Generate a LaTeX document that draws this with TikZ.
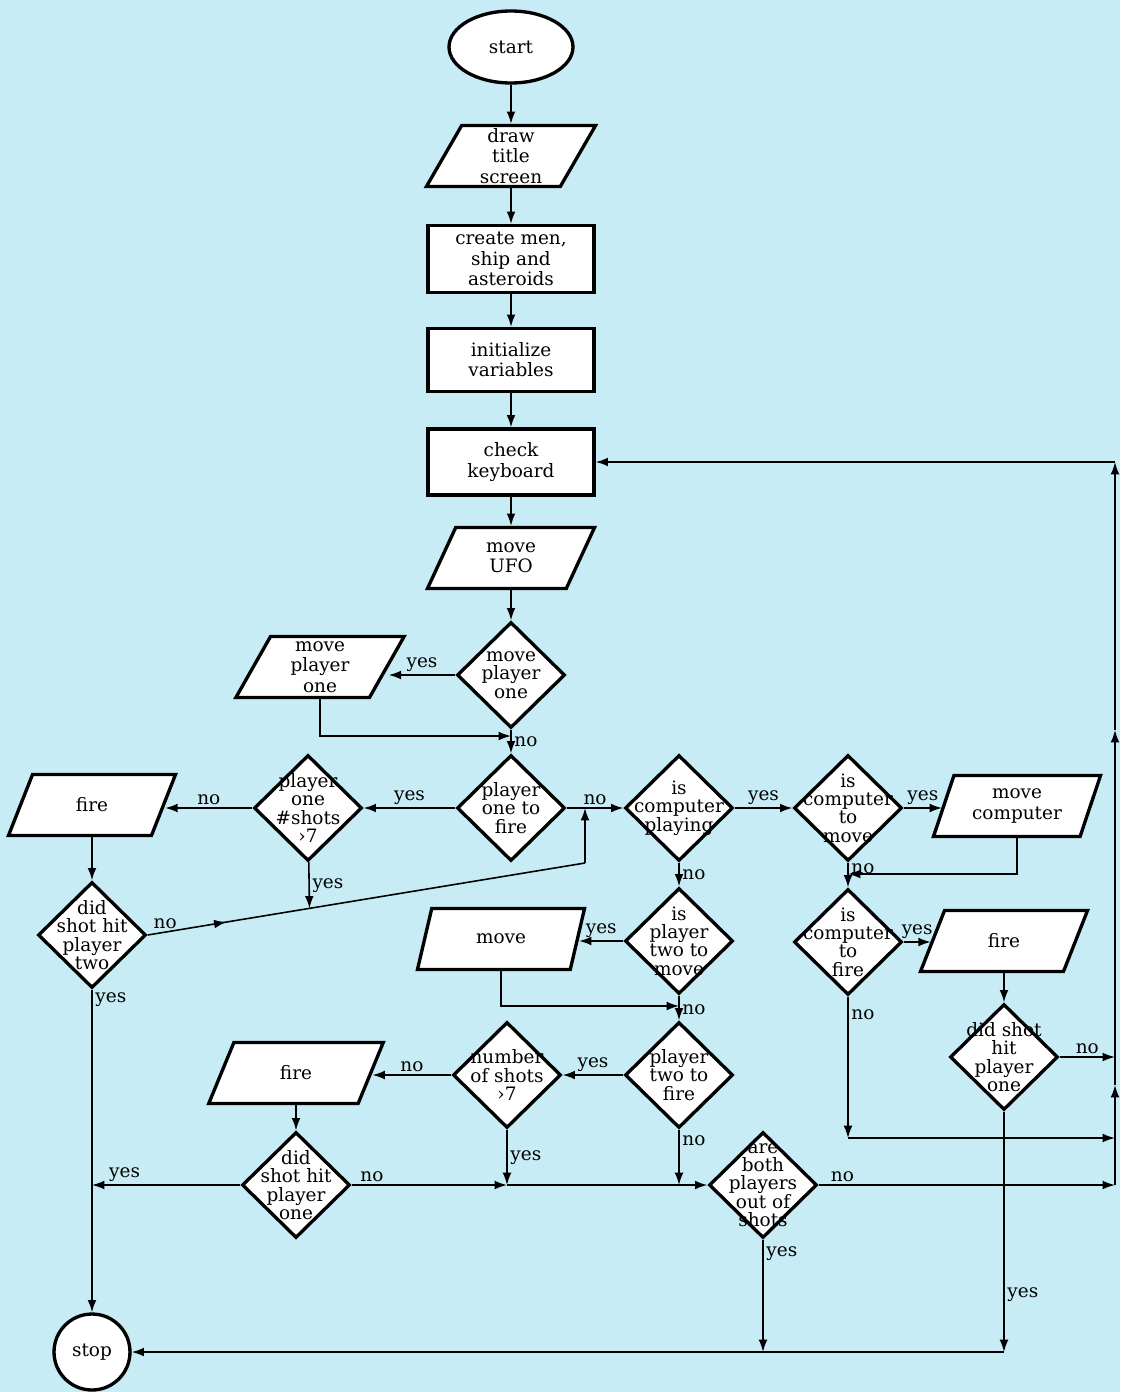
\documentclass[tikz,border=0pt]{standalone}
\usepackage{fontspec}
\setmainfont{DejaVu Serif}
\usetikzlibrary{shapes.geometric, arrows.meta, calc, decorations.markings}

\definecolor{paper}{RGB}{200,236,245}
\newcommand{\boxfont}{\fontsize{10.5}{11.5}\selectfont}
\newcommand{\diafont}{\fontsize{10.5}{10.4}\selectfont}

\tikzset{
  terminal/.style={ellipse, draw, line width=1.9pt, fill=white, minimum width=2.48cm, minimum height=1.44cm},
  process/.style={rectangle, draw, line width=1.9pt, fill=white, minimum width=3.32cm, minimum height=1.32cm, align=center},
  io/.style={trapezium, trapezium left angle=68, trapezium right angle=112, trapezium stretches=true, draw, line width=1.9pt, fill=white, minimum width=3.35cm, minimum height=1.22cm, align=center, inner sep=1pt},
  decision/.style={diamond, draw, line width=1.9pt, fill=white, minimum width=2.16cm, minimum height=2.12cm, inner sep=0pt},
  dtext/.style={align=center, inner sep=0pt, font=\diafont},
  flow/.style={line width=0.9pt, -{Latex[length=7pt,width=5pt]}},
  midarrow/.style={line width=0.9pt, postaction={decorate}, decoration={markings, mark=at position #1 with {\arrow{Latex[length=7pt,width=5pt]}}}},
  lbl/.style={inner sep=1.5pt, font=\boxfont},
}

\begin{document}
\begin{tikzpicture}[x=0.02cm, y=-0.02cm, font=\boxfont]
\fill[paper] (0,0) rectangle (1120,1392);
\useasboundingbox (0,0) rectangle (1120,1392);

% main column
\node[terminal] (start) at (511,47) {start};
\node[io, minimum width=3.4cm] (title) at (511,156) {draw\\title\\screen};
\node[process, minimum height=1.34cm] (men) at (511,259) {create men,\\ship and\\asteroids};
\node[process, minimum height=1.26cm] (init) at (511,360) {initialize\\variables};
\node[process] (keys) at (511,462) {check\\keyboard};
\node[io] (ufo) at (511,558) {move\\UFO};
\node[decision, label={[dtext]center:move\\player\\one}] (qmove1) at (511,675) {};
\node[io, minimum width=3.38cm] (move1) at (320,667) {move\\player\\one};
\node[decision, label={[dtext]center:player\\one to\\fire}] (qfire1) at (511,808) {};
\node[decision, label={[dtext]center:player\\one\\\#shots\\›7}] (qshots1) at (308,808) {};
\node[io] (fire1) at (92,805) {fire};
\node[decision, label={[dtext]center:did\\shot hit\\player\\two}] (qhit2) at (92,935) {};

% player two / computer side
\node[decision, label={[dtext]center:is\\computer\\playing}] (qplay) at (679,808) {};
\node[decision, label={[dtext]center:is\\computer\\to\\move}] (qcmove) at (848,808) {};
\node[io] (cmove) at (1017,806) {move\\computer};
\node[decision, label={[dtext]center:is\\computer\\to\\fire}] (qcfire) at (848,942) {};
\node[io] (fire3) at (1004,941) {fire};
\node[decision, label={[dtext]center:did shot\\hit\\player\\one}] (qhit1r) at (1004,1057) {};
\node[decision, label={[dtext]center:is\\player\\two to\\move}] (qmove2) at (679,941) {};
\node[io] (move2) at (501,939) {move};
\node[decision, label={[dtext]center:player\\two to\\fire}] (qfire2) at (679,1075) {};
\node[decision, label={[dtext]center:number\\of shots\\›7}] (qshots2) at (507,1075) {};
\node[io, minimum width=3.5cm] (fire2) at (296,1073) {fire};
\node[decision, label={[dtext]center:did\\shot hit\\player\\one}] (qhit1) at (296,1185) {};
\node[decision, label={[dtext]center:are\\both\\players\\out of\\shots}] (qboth) at (763,1185) {};
\node[terminal, circle, minimum size=1.52cm] (stop) at (92,1352) {stop};

% junctions
\coordinate (j1) at (511,736);
\coordinate (j2) at (585,863);
\coordinate (j3) at (585,808);
\coordinate (j4) at ($(qhit2.east)!0.37!(j2)$);
\coordinate (j5) at (848,874);
\coordinate (j6) at (1004,1352);
\coordinate (j7) at (848,1138);
\coordinate (j8) at (1115,1138);
\coordinate (j9) at (679,1006);
\coordinate (j10) at (92,1185);
\coordinate (j11) at (507,1185);
\coordinate (j12) at (679,1185);
\coordinate (j13) at (763,1352);
\coordinate (rno) at (1115,1057);
\coordinate (rb) at (1115,1185);
\coordinate (r1) at (1115,1085);
\coordinate (r2) at (1115,730);
\coordinate (rt) at (1115,462);

\foreach \a/\b in {start/title, title/men, men/init, init/keys, keys/ufo, ufo/qmove1}
  \draw[flow] (\a) -- (\b);

\draw[flow] (qmove1.west) -- node[lbl, above]{yes} (qmove1.west -| move1.east);
\draw[flow] (move1.south) |- (j1);
\draw[flow] (qmove1) -- node[lbl, right]{no} (qfire1);
\draw[flow] (qfire1) -- node[lbl, above]{yes} (qshots1);
\draw[flow] (qshots1.west) -- node[lbl, above]{no} (qshots1.west -| fire1.east);
\draw[flow] (fire1) -- (qhit2);
\draw[midarrow=0.18] (qhit2.east) -- node[lbl, above, pos=0.04]{no} (j2);
\draw[flow] (j2) -- (j3);
\draw[flow] (qshots1) -- node[lbl, right]{yes} (j4);
\draw[flow] (qhit2) -- node[lbl, right, pos=0.03]{yes} (stop);

\draw[flow] (qfire1) -- node[lbl, above]{no} (qplay);
\draw[flow] (qplay) -- node[lbl, above]{yes} (qcmove);
\draw[flow] (qcmove.east) -- node[lbl, above]{yes} (qcmove.east -| cmove.west);
\draw[flow] (cmove.south) |- (j5);
\draw[flow] (qcmove) -- node[lbl, right, pos=0.25]{no} (qcfire);
\draw[flow] (qcfire.east) -- node[lbl, above]{yes} (qcfire.east -| fire3.west);
\draw[flow] (fire3) -- (qhit1r);
\draw[flow] (qhit1r) -- node[lbl, above]{no} (rno);
\draw[flow] (qhit1r) -- node[lbl, right, pos=0.76]{yes} (j6);
\draw[flow] (j6) -- (stop);
\draw[flow] (qcfire) -- node[lbl, right, pos=0.13]{no} (j7);
\draw[flow] (j7) -- (j8);

\draw[flow] (qplay) -- node[lbl, right]{no} (qmove2);
\draw[flow] (qmove2.west) -- node[lbl, above]{yes} (qmove2.west -| move2.east);
\draw[flow] (move2.south) |- (j9);
\draw[flow] (qmove2) -- node[lbl, right, pos=0.55]{no} (qfire2);
\draw[flow] (qfire2) -- node[lbl, above]{yes} (qshots2);
\draw[flow] (qshots2.west) -- node[lbl, above]{no} (qshots2.west -| fire2.east);
\draw[flow] (fire2) -- (qhit1);
\draw[flow] (qhit1) -- node[lbl, above, pos=0.78]{yes} (j10);
\draw[flow] (qhit1) -- node[lbl, above, pos=0.13]{no} (j11);
\draw[flow] (qshots2) -- node[lbl, right]{yes} (j11);
\draw[flow] (j11) -- (qboth);
\draw[flow] (qfire2) -- node[lbl, right, pos=0.2]{no} (j12);
\draw[flow] (qboth) -- node[lbl, right, pos=0.12]{yes} (j13);
\draw[flow] (qboth) -- node[lbl, above, pos=0.08]{no} (rb);

% loop back to the keyboard
\foreach \a/\b in {rb/r1, r1/r2, r2/rt, rt/keys}
  \draw[flow] (\a) -- (\b);
\end{tikzpicture}
\end{document}
